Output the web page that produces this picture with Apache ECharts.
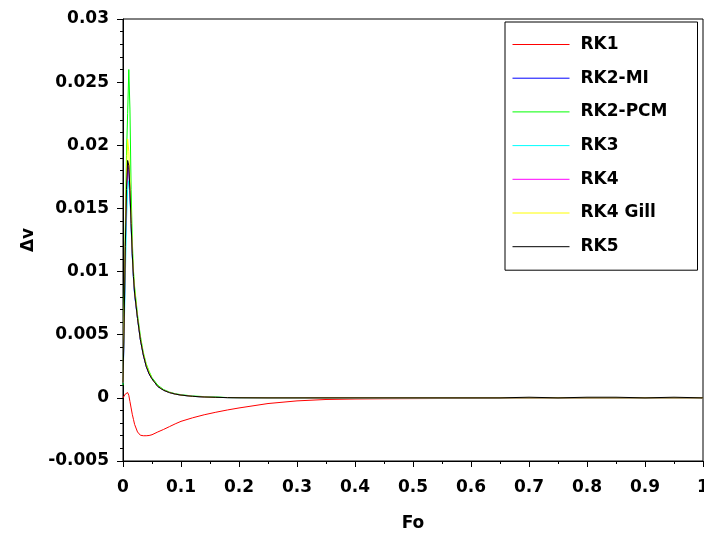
<!DOCTYPE html>
<html>
<head>
<meta charset="utf-8">
<script src="https://cdn.jsdelivr.net/npm/echarts@6/dist/echarts.min.js"></script>
<style>
html,body{margin:0;padding:0;background:#fff;}
#chart{width:704px;height:537px;}
</style>
</head>
<body>
<div id="chart"></div>
<script>
// Shared x values (Fo)
var fo = [0, 0.002, 0.004, 0.006, 0.008, 0.010, 0.012, 0.014, 0.016, 0.018, 0.020,
  0.025, 0.030, 0.035, 0.040, 0.045, 0.050, 0.060, 0.070, 0.080, 0.090, 0.100,
  0.120, 0.140, 0.160, 0.180, 0.200, 0.250, 0.300, 0.350, 0.400, 0.450, 0.500,
  0.550, 0.600, 0.650, 0.700, 0.750, 0.800, 0.850, 0.900, 0.950, 1.000];

var seriesNames = ['RK1', 'RK2-MI', 'RK2-PCM', 'RK3', 'RK4', 'RK4 Gill', 'RK5'];
var seriesColors = ['#ff0000', '#0000ff', '#00ff00', '#00ffff', '#ff00ff', '#ffff00', '#000000'];

var rk1 = [0, 0.0001, 0.0003, 0.00044, 0.00042, 0.0002, -0.0003, -0.0008, -0.0013, -0.0017, -0.0021,
  -0.0027, -0.00296, -0.003, -0.003, -0.00298, -0.00292, -0.0027, -0.0025, -0.00228, -0.00206, -0.00186,
  -0.00158, -0.00134, -0.00114, -0.00096, -0.0008, -0.00045, -0.00024, -0.00013, -0.00009, -0.00007, -0.00006,
  -0.00005, -0.00005, -0.00004, -0.00004, -0.00004, -0.00004, -0.00003, -0.00003, -0.00003, -0.00003];

var rk2mi = [0.0011, 0.0058, 0.0118, 0.0162, 0.0183, 0.0181, 0.0162, 0.0137, 0.0113, 0.0095, 0.0082,
  0.0063, 0.0046, 0.0034, 0.0025, 0.0019, 0.0015, 0.0009, 0.0006, 0.00042, 0.0003, 0.00022,
  0.00012, 0.00007, 0.00004, 0.00002, 0.00001, 0, 0, 0, 0, 0, 0,
  0, 0, 0, 0, 0, 0, 0, 0, 0, 0];

var rk2pcm = [0.001, 0.0075, 0.0135, 0.0192, 0.0225, 0.026, 0.0228, 0.0165, 0.0125, 0.0101, 0.0088,
  0.0066, 0.0049, 0.0036, 0.0027, 0.0021, 0.0016, 0.001, 0.00066, 0.00046, 0.00033, 0.00025,
  0.00015, 0.0001, 0.00008, 0.00002, 0.00001, 0, 0, 0, 0, 0, 0,
  0, 0, 0, 0, 0, 0, 0, 0, 0, 0];

var rk3 = [0.0012, 0.0052, 0.0095, 0.014, 0.0165, 0.0172, 0.0158, 0.0135, 0.0112, 0.0095, 0.0082,
  0.0063, 0.0046, 0.0034, 0.0025, 0.0019, 0.0015, 0.0009, 0.0006, 0.00042, 0.0003, 0.00022,
  0.00012, 0.00007, 0.00004, 0.00002, 0.00001, 0, 0, 0, 0, 0, 0,
  0, 0, 0, 0, 0, 0, 0, 0, 0, 0];

var rk4 = [0.0012, 0.0059, 0.0119, 0.0164, 0.0186, 0.0183, 0.0163, 0.0138, 0.0114, 0.0096, 0.0083,
  0.0063, 0.0046, 0.0034, 0.0025, 0.0019, 0.0015, 0.0009, 0.0006, 0.00042, 0.0003, 0.00022,
  0.00012, 0.00007, 0.00004, 0.00002, 0.00001, 0, 0, 0, 0, 0, 0,
  0, 0, 0, 0, 0, 0, 0, 0, 0, 0];

var rk4gill = [0.0012, 0.0065, 0.0128, 0.0178, 0.0205, 0.0195, 0.0172, 0.0142, 0.0117, 0.0098, 0.0085,
  0.0064, 0.0047, 0.0035, 0.0026, 0.002, 0.0015, 0.00092, 0.00061, 0.00043, 0.0003, 0.00022,
  0.00012, 0.00007, 0.00004, 0.00002, 0.00001, 0, 0, 0, 0, 0, 0,
  0, 0, 0, 0, 0, 0, 0, 0, 0, 0];

var rk5 = [0.0012, 0.006, 0.012, 0.0165, 0.0188, 0.0184, 0.0164, 0.0138, 0.0114, 0.0096, 0.0083,
  0.0063, 0.0046, 0.0034, 0.0025, 0.0019, 0.0015, 0.0009, 0.0006, 0.00042, 0.0003, 0.00022,
  0.00012, 0.00007, 0.00004, 0.00002, 0.00001, 0, 0, 0, 0, 0, 0,
  0, 0, 0, 0.00005, 0, 0.00005, 0.00005, 0, 0.00005, 0];

var seriesValues = [rk1, rk2mi, rk2pcm, rk3, rk4, rk4gill, rk5];

var FONT = '"DejaVu Sans", Verdana, sans-serif';

var chart = echarts.init(document.getElementById('chart'), null, {renderer: 'canvas'});

var series = seriesNames.map(function (name, i) {
  return {
    name: name,
    type: 'line',
    symbol: 'none',
    showSymbol: false,
    smooth: false,
    data: fo.map(function (x, j) { return [x, seriesValues[i][j]]; }),
    lineStyle: {color: seriesColors[i], width: 1},
    itemStyle: {color: seriesColors[i]},
    emphasis: {disabled: true},
    z: 2 + i
  };
});

chart.setOption({
  animation: false,
  backgroundColor: '#ffffff',
  grid: {
    left: 123, right: 1, top: 19, bottom: 76,
    outerBoundsMode: 'none',
    containLabel: false,
    show: true, borderColor: '#000', borderWidth: 1, backgroundColor: 'transparent'
  },
  legend: {
    orient: 'vertical',
    left: 505,
    top: 22,
    itemWidth: 57,
    itemHeight: 14,
    itemGap: 16.7,
    padding: [14, 30, 15, 7],
    borderColor: '#000',
    borderWidth: 1,
    backgroundColor: '#fff',
    itemStyle: {opacity: 0},
    lineStyle: {width: 1},
    textStyle: {fontFamily: FONT, fontSize: 17, fontWeight: 'bold', color: '#000', padding: [0, 0, 0, 6]},
    data: seriesNames
  },
  xAxis: {
    type: 'value',
    min: 0, max: 1, interval: 0.1,
    name: 'Fo',
    nameLocation: 'middle',
    nameGap: 54,
    nameTextStyle: {fontFamily: FONT, fontSize: 17, fontWeight: 'bold', color: '#000'},
    axisLine: {show: true, onZero: false, lineStyle: {color: '#000', width: 1}},
    axisTick: {show: true, inside: false, length: 6, lineStyle: {color: '#000'}},
    minorTick: {show: true, splitNumber: 2, length: 3, lineStyle: {color: '#000'}},
    splitLine: {show: false},
    axisLabel: {
      margin: 18, fontFamily: FONT, fontSize: 17, fontWeight: 'bold', color: '#000',
      formatter: function (v) { return String(Math.round(v * 10) / 10); }
    }
  },
  yAxis: {
    type: 'value',
    min: -0.005, max: 0.03, interval: 0.005,
    name: 'Δv',
    nameLocation: 'middle',
    nameGap: 77,
    nameTextStyle: {fontFamily: FONT, fontSize: 17, fontWeight: 'bold', color: '#000'},
    axisLine: {show: true, onZero: false, lineStyle: {color: '#000', width: 1}},
    axisTick: {show: true, inside: false, length: 6, lineStyle: {color: '#000'}},
    minorTick: {show: true, splitNumber: 5, length: 3, lineStyle: {color: '#000'}},
    splitLine: {show: false},
    axisLabel: {
      margin: 14, fontFamily: FONT, fontSize: 17, fontWeight: 'bold', color: '#000',
      formatter: function (v) { return String(Math.round(v * 1000) / 1000); }
    }
  },
  series: series
});
</script>
</body>
</html>
